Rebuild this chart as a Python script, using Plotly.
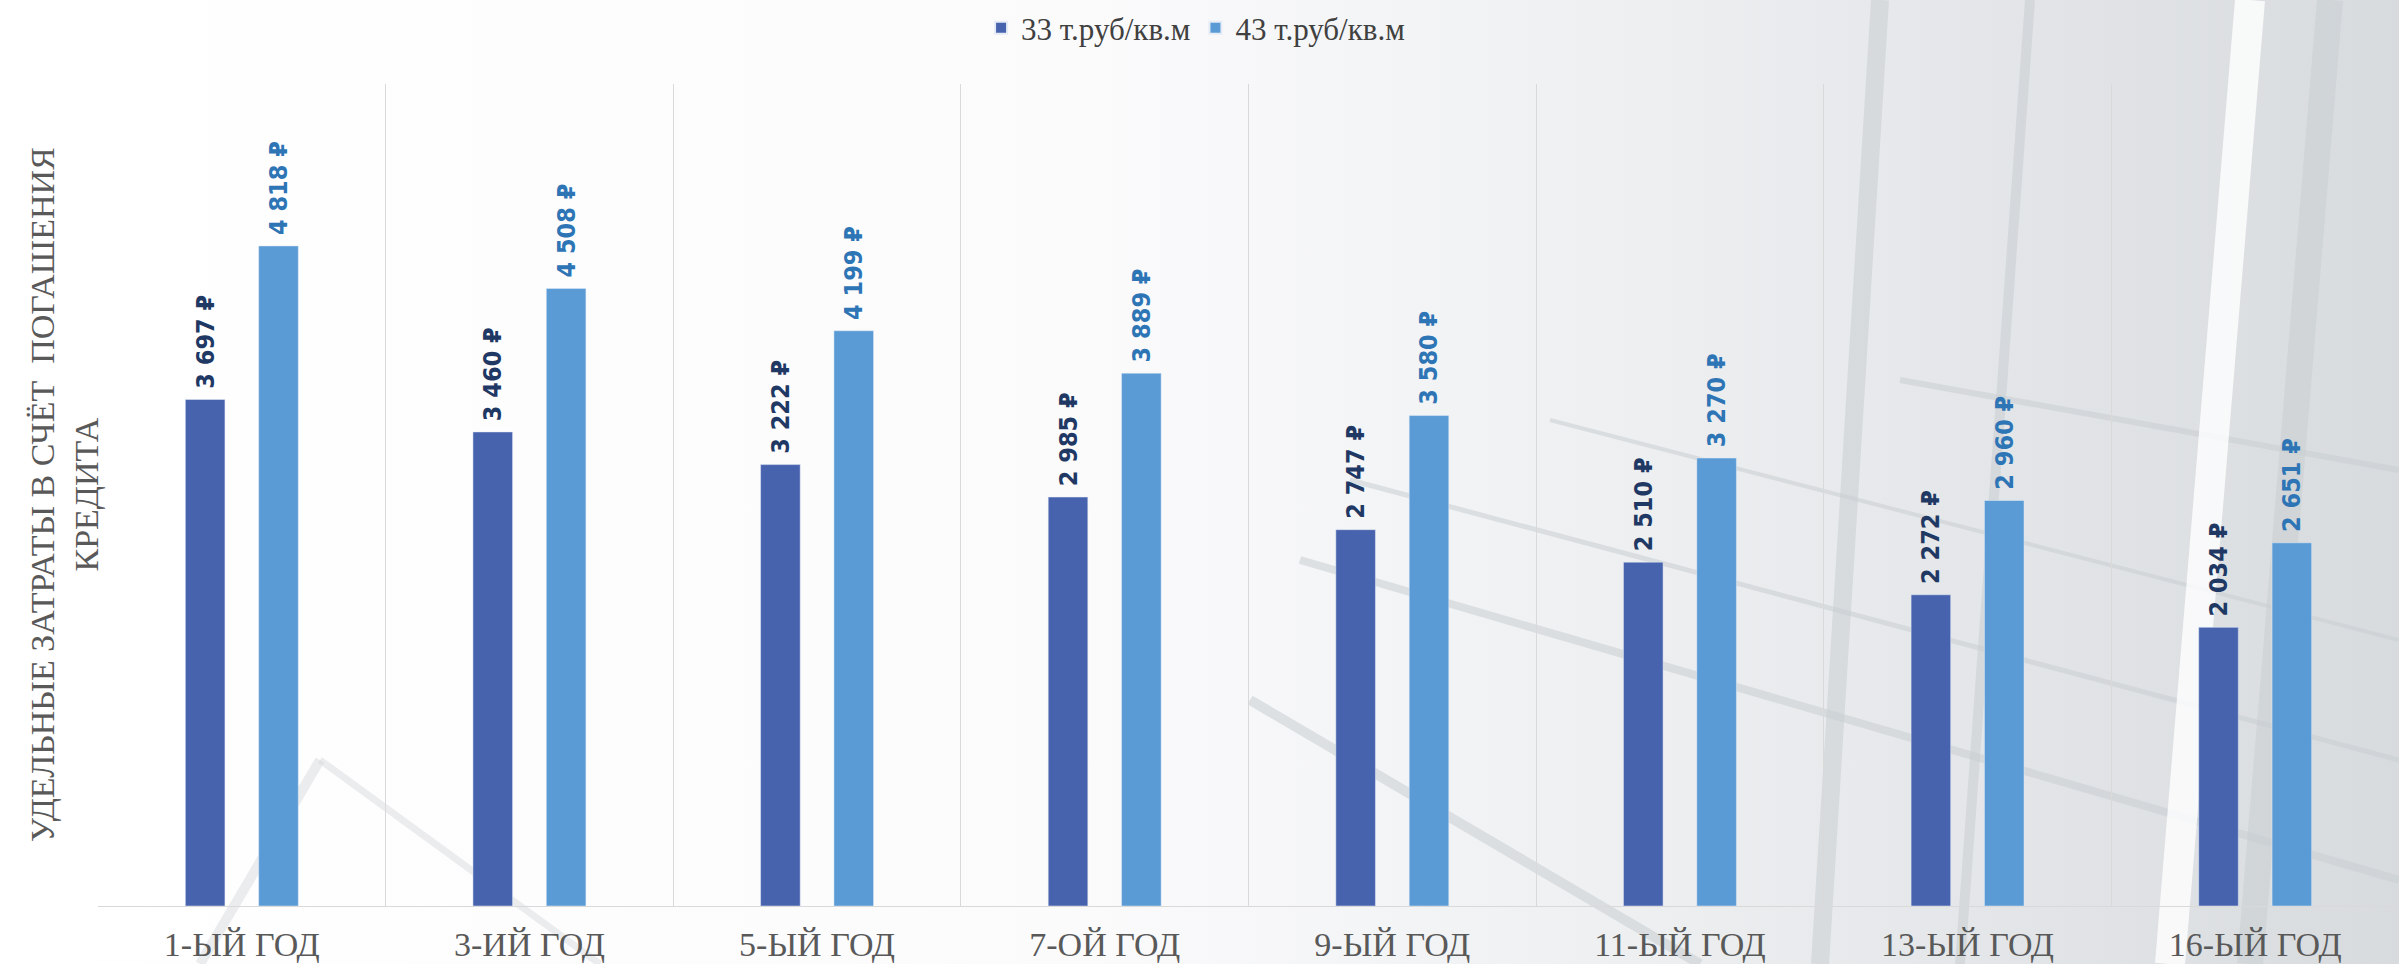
import base64
import plotly.graph_objects as go

categories = ["1-ЫЙ ГОД", "3-ИЙ ГОД", "5-ЫЙ ГОД", "7-ОЙ ГОД", "9-ЫЙ ГОД", "11-ЫЙ ГОД", "13-ЫЙ ГОД", "16-ЫЙ ГОД"]
series1_name = "33 т.руб/кв.м"
series1 = [3697, 3460, 3222, 2985, 2747, 2510, 2272, 2034]
series2_name = "43 т.руб/кв.м"
series2 = [4818, 4508, 4199, 3889, 3580, 3270, 2960, 2651]
y_title = "УДЕЛЬНЫЕ ЗАТРАТЫ В СЧЁТ  ПОГАШЕНИЯ<br>КРЕДИТА"


def fmt(v):
    s = f"{v:,}".replace(",", " ")
    return f"<b>\u00a0{s} ₽</b>"


label_font = "DejaVu Sans Condensed, DejaVu Sans, Noto Sans"
serif = "Liberation Serif, DejaVu Serif, serif"

# decorative light background (architectural photo approximation)
svg = """<svg xmlns='http://www.w3.org/2000/svg' width='2399' height='964' viewBox='0 0 2399 964'>
<defs><linearGradient id='g' x1='0' y1='0' x2='1' y2='0'>
<stop offset='0' stop-color='#ffffff'/><stop offset='0.45' stop-color='#fbfbfc'/>
<stop offset='0.7' stop-color='#eceef0'/><stop offset='1' stop-color='#d8dbde'/></linearGradient></defs>
<rect width='2399' height='964' fill='url(#g)'/>
<g stroke='#c9cdd1' stroke-opacity='0.55' fill='none'>
<line x1='1880' y1='0' x2='1820' y2='964' stroke-width='18'/>
<line x1='2030' y1='0' x2='1960' y2='964' stroke-width='10'/>
<line x1='2330' y1='0' x2='2250' y2='964' stroke-width='26'/>
<line x1='1300' y1='560' x2='2399' y2='880' stroke-width='8'/>
<line x1='1350' y1='480' x2='2399' y2='760' stroke-width='5'/>
<line x1='1550' y1='420' x2='2399' y2='640' stroke-width='4'/>
<line x1='1900' y1='380' x2='2399' y2='470' stroke-width='6'/>
<line x1='1250' y1='700' x2='1700' y2='964' stroke-width='10'/>
</g>
<g stroke='#d5d8db' stroke-opacity='0.45' fill='none'>
<line x1='200' y1='964' x2='320' y2='760' stroke-width='10'/>
<line x1='320' y1='760' x2='600' y2='964' stroke-width='7'/>
</g>
<line x1='2250' y1='0' x2='2170' y2='964' stroke='#ffffff' stroke-opacity='0.8' stroke-width='30'/>
</svg>"""
bg_src = "data:image/svg+xml;base64," + base64.b64encode(svg.encode()).decode()

fig = go.Figure()
fig.add_trace(go.Bar(
    x=categories, y=series1, name=series1_name,
    marker=dict(color="#4863ae"),
    text=[fmt(v) for v in series1], textposition="outside", textangle=-90,
    constraintext="none",
    textfont=dict(family=label_font, size=25, color="#1f3864"),
    cliponaxis=False,
))
fig.add_trace(go.Bar(
    x=categories, y=series2, name=series2_name,
    marker=dict(color="#5b9bd5"),
    text=[fmt(v) for v in series2], textposition="outside", textangle=-90,
    constraintext="none",
    textfont=dict(family=label_font, size=25, color="#2e75b6"),
    cliponaxis=False,
))

fig.update_layout(
    width=2399, height=964,
    margin=dict(l=98, r=0, t=84, b=58),
    paper_bgcolor="white", plot_bgcolor="rgba(0,0,0,0)",
    barmode="group", bargap=0.49, bargroupgap=0.46,
    uniformtext=dict(mode=False),
    legend=dict(orientation="h", x=0.477, xanchor="center", y=1.068, yanchor="middle",
                font=dict(family=serif, size=31, color="#404040"),
                bgcolor="rgba(0,0,0,0)",
                itemsizing="constant", traceorder="normal"),
    xaxis=dict(tickson="boundaries", showgrid=True, gridcolor="#d9d9d9", gridwidth=1,
               showline=True, linecolor="#d9d9d9", ticks="",
               tickfont=dict(family=serif, size=34, color="#595959"),
               ticklabelstandoff=8, automargin=False,
               mirror=False),
    yaxis=dict(range=[0, 6000], showgrid=False, showticklabels=False, zeroline=False,
               showline=False),
    showlegend=True,
    images=[dict(source=bg_src, xref="paper", yref="paper", x=-98 / 2301, y=1 + 84 / 822,
                 sizex=2399 / 2301, sizey=964 / 822, xanchor="left", yanchor="top",
                 sizing="stretch", layer="below")],
)
fig.add_annotation(
    text=y_title, xref="paper", yref="paper", x=0, y=0.5, xshift=-34,
    textangle=-90, showarrow=False, xanchor="center", yanchor="middle", align="center",
    font=dict(family=serif, size=34, color="#595959"),
)
fig.write_html("out.html")
